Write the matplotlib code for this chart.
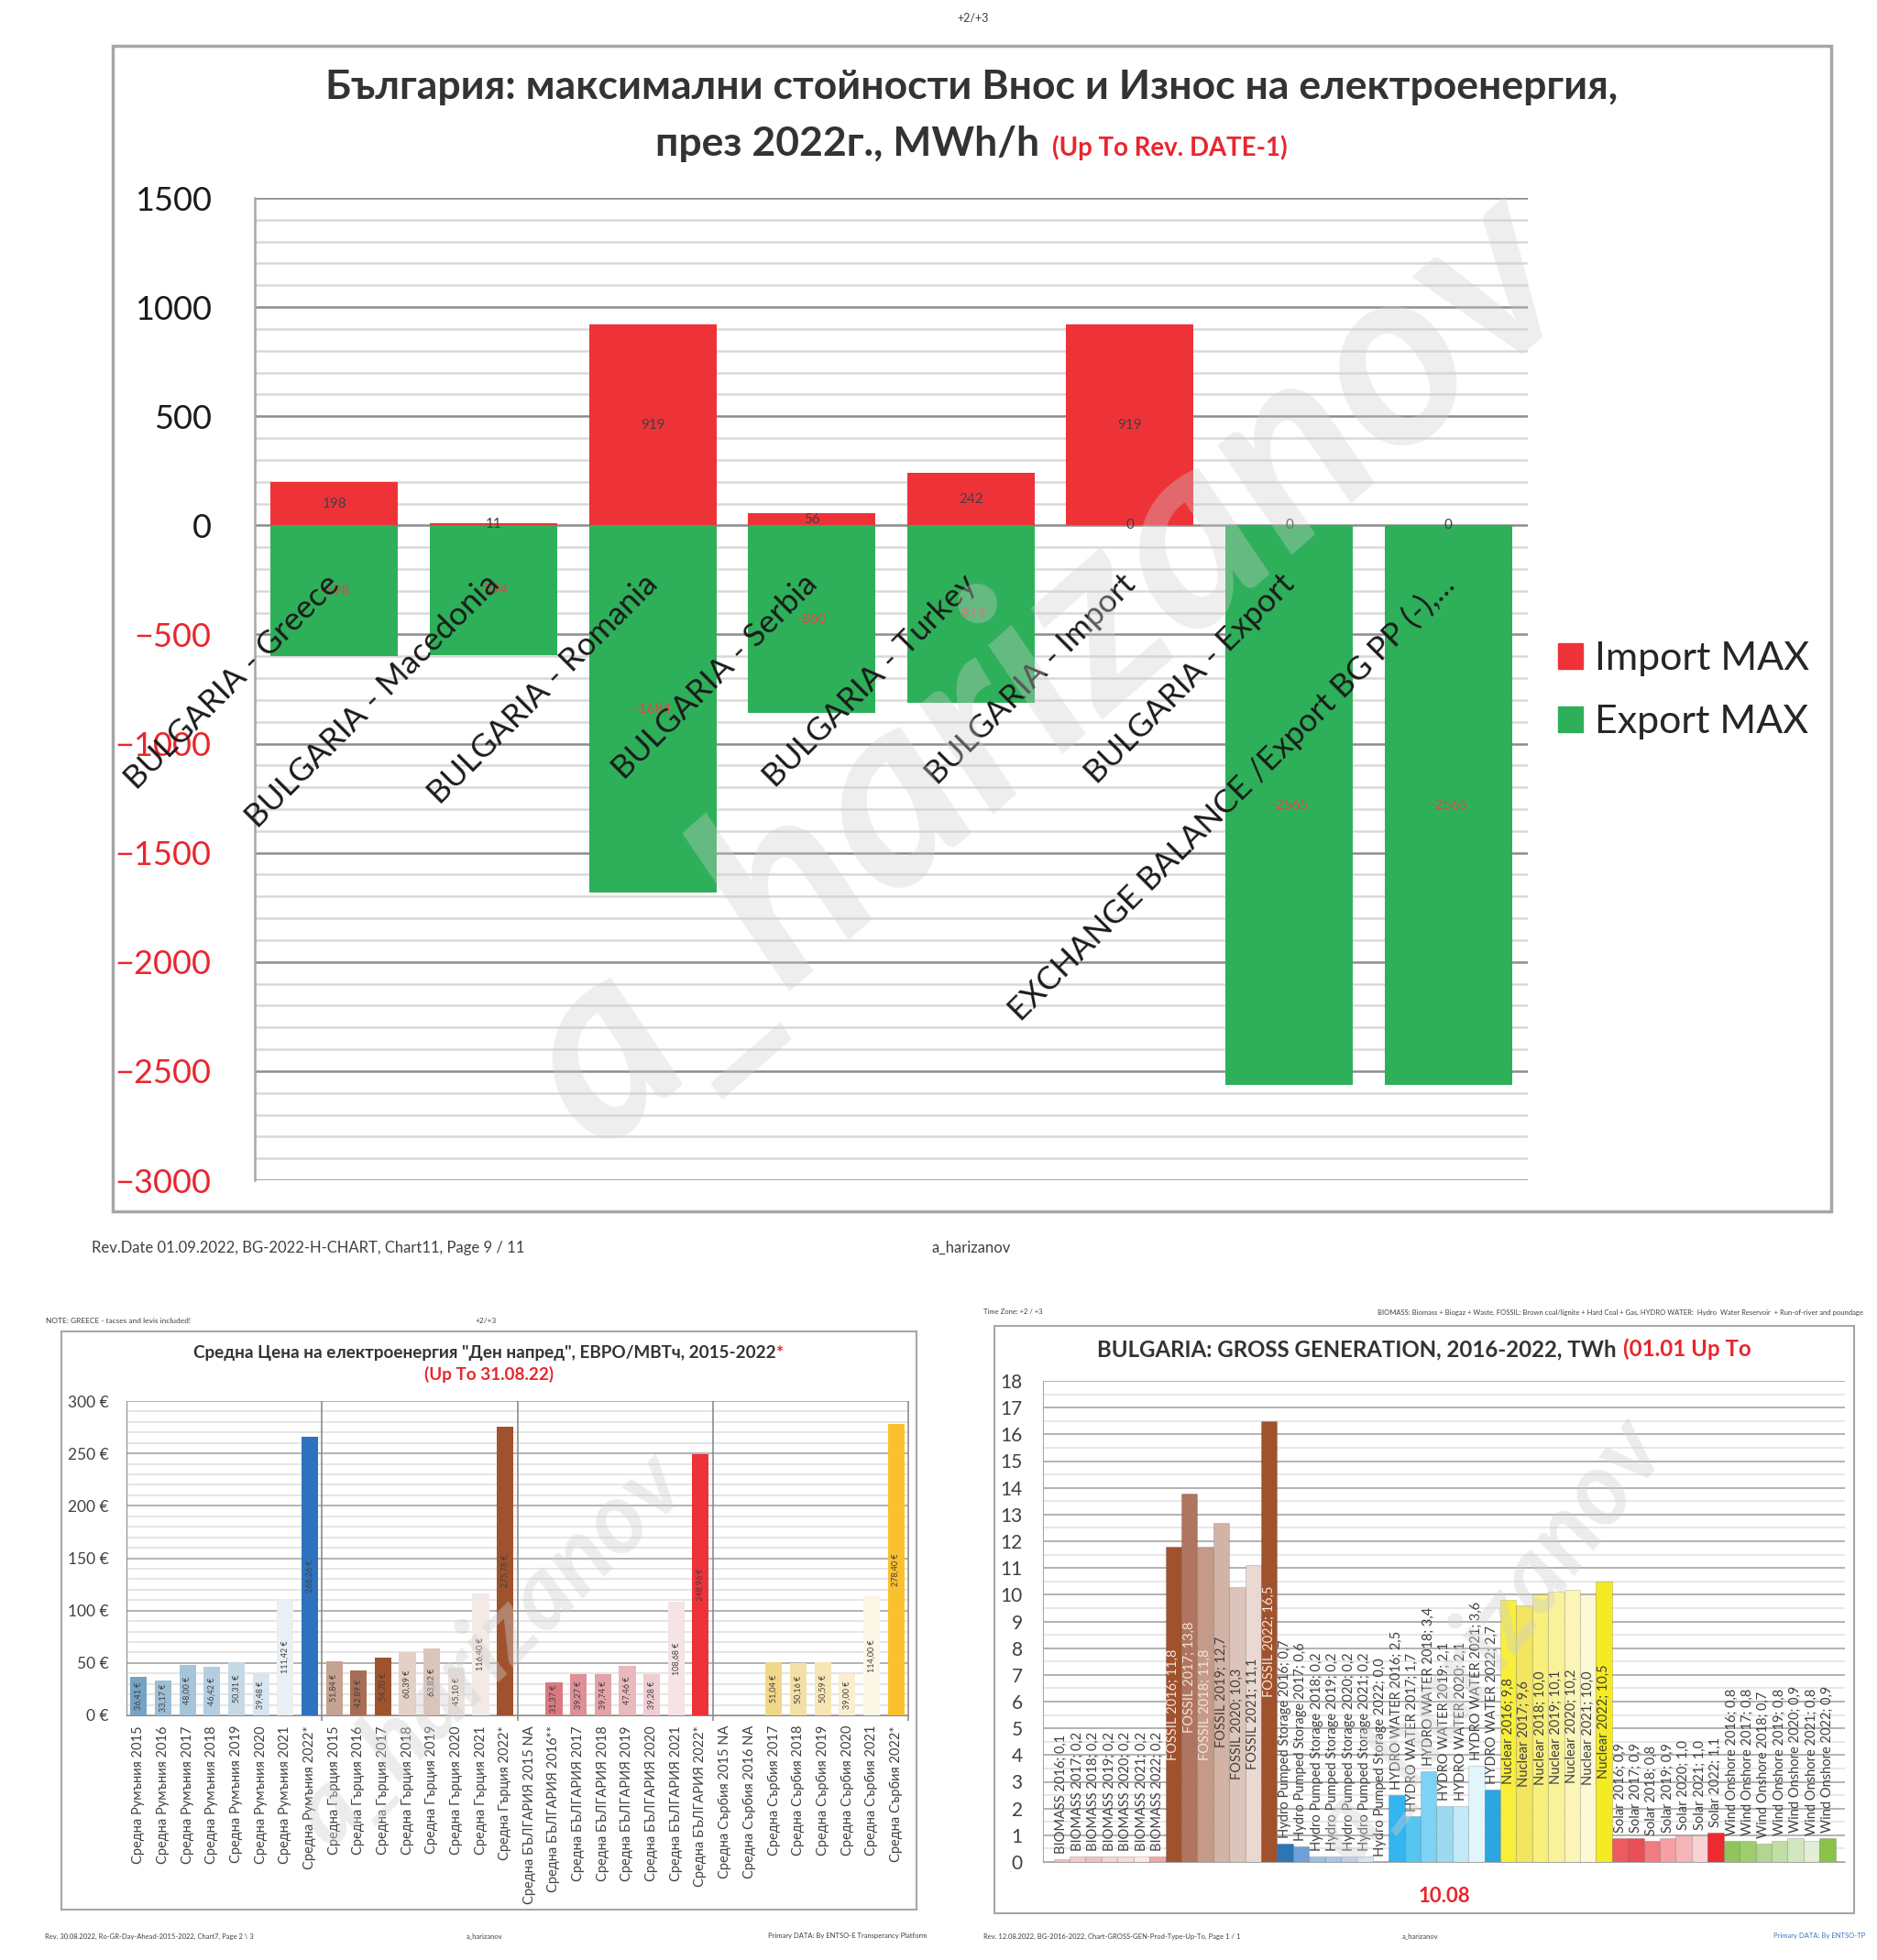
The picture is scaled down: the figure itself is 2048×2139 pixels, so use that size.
import matplotlib.pyplot as plt
from matplotlib.patches import Rectangle, Patch
import numpy as np

plt.rcParams['font.family'] = ['Lato', 'Open Sans', 'DejaVu Sans']

# --- main chart: max import / export, MWh/h
categories = ["BULGARIA - Greece", "BULGARIA - Macedonia", "BULGARIA - Romania",
              "BULGARIA - Serbia", "BULGARIA - Turkey", "BULGARIA - Import",
              "BULGARIA - Export", "EXCHANGE BALANCE /Export BG PP (-),..."]
import_max = [198, 11, 919, 56, 242, 919, 0, 0]
export_max = [-598, -594, -1684, -860, -813, 0, -2565, -2565]

# --- day-ahead average prices, EUR/MWh (None = NA)
price_labels = ["Средна Румъния 2015", "Средна Румъния 2016", "Средна Румъния 2017",
                "Средна Румъния 2018", "Средна Румъния 2019", "Средна Румъния 2020",
                "Средна Румъния 2021", "Средна Румъния 2022*",
                "Средна Гърция 2015", "Средна Гърция 2016", "Средна Гърция 2017",
                "Средна Гърция 2018", "Средна Гърция 2019", "Средна Гърция 2020",
                "Средна Гърция 2021", "Средна Гърция 2022*",
                "Средна БЪЛГАРИЯ 2015 NA", "Средна БЪЛГАРИЯ 2016**", "Средна БЪЛГАРИЯ 2017",
                "Средна БЪЛГАРИЯ 2018", "Средна БЪЛГАРИЯ 2019", "Средна БЪЛГАРИЯ 2020",
                "Средна БЪЛГАРИЯ 2021", "Средна БЪЛГАРИЯ 2022*",
                "Средна Сърбия 2015 NA", "Средна Сърбия 2016 NA", "Средна Сърбия 2017",
                "Средна Сърбия 2018", "Средна Сърбия 2019", "Средна Сърбия 2020",
                "Средна Сърбия 2021", "Средна Сърбия 2022*"]
price_values = [36.41, 33.17, 48.00, 46.42, 50.31, 39.48, 111.42, 266.26,
                51.84, 42.89, 54.70, 60.39, 63.82, 45.10, 116.40, 275.78,
                None, 31.37, 39.27, 39.74, 47.46, 39.28, 108.68, 248.96,
                None, None, 51.04, 50.16, 50.59, 39.00, 114.00, 278.40]
price_colors = ['#76a3c4', '#9dbfd6', '#a6c4da', '#b4cde0', '#c5d8e6', '#dae6ef', '#e8eff5', '#2e72bf',
                '#c6a292', '#a86e55', '#a0522d', '#e3d0c7', '#dac5bb', '#ece0da', '#f3eae6', '#a0522d',
                '#d87a80', '#d87a80', '#de9096', '#e3a3a8', '#eab9bd', '#efcdd0', '#f5e3e5', '#ee3338',
                '#f1d78a', '#f1d78a', '#f1d78a', '#f4e0a6', '#f6e6b6', '#f9efcf', '#fcf6e6', '#fbc02d']

# --- gross generation, TWh
gen_types = ["BIOMASS", "FOSSIL", "Hydro Pumped Storage", "HYDRO WATER", "Nuclear", "Solar", "Wind Onshore"]
gen_years = [2016, 2017, 2018, 2019, 2020, 2021, 2022]
biomass = [0.1, 0.2, 0.2, 0.2, 0.2, 0.2, 0.2]
fossil = [11.8, 13.8, 11.8, 12.7, 10.3, 11.1, 16.5]
hydro_ps = [0.7, 0.6, 0.2, 0.2, 0.2, 0.2, 0.0]
hydro_water = [2.5, 1.7, 3.4, 2.1, 2.1, 3.6, 2.7]
nuclear = [9.8, 9.6, 10.0, 10.1, 10.2, 10.0, 10.5]
solar = [0.9, 0.9, 0.8, 0.9, 1.0, 1.0, 1.1]
wind = [0.8, 0.8, 0.7, 0.8, 0.9, 0.8, 0.9]
gen_colors = ['#f0c0bd', '#f3cbc8', '#efc1bd', '#f5d5d2', '#f7dcda', '#fbe9e8', '#eea8a5',
              '#a0522d', '#b07560', '#c49a88', '#d3b3a6', '#dcc4ba', '#ead9d3', '#a0522d',
              '#2e75b6', '#6fa0d8', '#9dbde4', '#a9c6e8', '#b9d0ec', '#d6e4f3', '#ffffff',
              '#33b5ef', '#55c5f2', '#7dd3f5', '#9cdaf0', '#c2eaf9', '#e0f5fc', '#2aa7e0',
              '#f9ef3a', '#f2e560', '#f8f07a', '#faf29a', '#fbf6b8', '#fdf9d6', '#f5eb22',
              '#ee5a5f', '#e84f56', '#f07b80', '#f5a0a4', '#f6b6b9', '#f7d3d5', '#ee2b31',
              '#8fc55a', '#9ecd6d', '#b2d690', '#c1dea5', '#d2e6bf', '#e2eed6', '#8bc34a']

DARK = '#404040'
RED = '#e8262d'
W, H = 2048, 2139
fig = plt.figure(figsize=(W / 100, H / 100), dpi=100)
renderer = fig.canvas.get_renderer()


def fx(px):
    return px / W


def fy(py):
    return 1 - py / H


def axes_box(x0, y0, x1, y1):
    return fig.add_axes([fx(x0), fy(y1), (x1 - x0) / W, (y1 - y0) / H])


def frame(x0, y0, x1, y1, lw):
    fig.add_artist(Rectangle((fx(x0), fy(y1)), (x1 - x0) / W, (y1 - y0) / H,
                             transform=fig.transFigure, fill=False, edgecolor='#a6a6a6', lw=lw))


def title_line(xc, base, parts, target=None, gap=0.3):
    texts = [fig.text(0, fy(base), s, color=c, fontsize=fs, fontweight='bold', va='baseline', ha='left')
             for s, c, fs in parts]
    if target:
        ws = [t.get_window_extent(renderer).width for t in texts]
        g = gap * texts[0].get_fontsize() * 100 / 72
        k = target / (sum(ws) + g * (len(ws) - 1))
        for t in texts:
            t.set_fontsize(t.get_fontsize() * k)
    ws = [t.get_window_extent(renderer).width for t in texts]
    g = gap * texts[0].get_fontsize() * 100 / 72
    x = xc - (sum(ws) + g * (len(ws) - 1)) / 2
    for t, w in zip(texts, ws):
        t.set_x(fx(x))
        x += w + g
    return texts[0].get_fontsize()


def watermark(xc, yc, size, angle, alpha=0.4):
    fig.text(fx(xc), fy(yc), "a_harizanov", fontsize=size, rotation=angle, color='#cfcfcf',
             alpha=alpha, ha='center', va='center', rotation_mode='anchor',
             fontweight='bold', fontstyle='italic', zorder=10)


# ================= main chart =================
fig.text(fx(1062), fy(19), "+2/+3", fontsize=9, color=DARK, ha='center', va='center')
frame(123, 50, 1998, 1322, 2.5)
fs = title_line(1060, 108, [("България: максимални стойности Внос и Износ на електроенергия,", '#333333', 30)],
                target=1405)
title_line(1060, 170, [("през 2022г., MWh/h", '#333333', fs), ("(Up To Rev. DATE-1)", RED, fs * 0.62)])

ax = axes_box(278, 216, 1667, 1288)
x = np.arange(len(categories))
ax.bar(x, import_max, 0.8, color='#ee3338', zorder=3)
ax.bar(x, export_max, 0.8, color='#2eb05a', zorder=3)
ax.set_xlim(-0.5, len(categories) - 0.5)
ax.set_ylim(-3000, 1500)
ax.set_yticks(range(-3000, 1501, 500))
ax.set_yticks(range(-3000, 1501, 100), minor=True)
ax.grid(axis='y', which='major', color='#8c8c8c', lw=1.8)
ax.grid(axis='y', which='minor', color='#d9d9d9', lw=1.8)
ax.set_axisbelow(True)
ax.set_xticks([])
ax.tick_params(axis='y', which='both', length=0, pad=34, labelsize=26)
for lbl, v in zip(ax.get_yticklabels(), ax.get_yticks()):
    lbl.set_color(RED if v < 0 else '#1a1a1a')
for s in ['top', 'right', 'bottom']:
    ax.spines[s].set_visible(False)
ax.spines['left'].set_color('#a6a6a6')
ax.spines['left'].set_linewidth(1.8)

for i in x:
    ax.text(i, import_max[i] / 2, f"{import_max[i]}", ha='center', va='center', fontsize=11, color=DARK, zorder=5)
    if export_max[i] != 0:
        ax.text(i, export_max[i] / 2, f"{export_max[i]}", ha='center', va='center', fontsize=11,
                color='#e0474c', zorder=5)
    elif import_max[i] != 0:
        ax.text(i, 0, "0", ha='center', va='center', fontsize=11, color=DARK, zorder=5)
    ax.text(i - 0.06, -200, categories[i], rotation=45, rotation_mode='anchor', ha='right', va='top',
            fontsize=25.5, color='#1a1a1a', zorder=6)

fig.legend(handles=[Patch(color='#ee3338'), Patch(color='#2eb05a')], labels=["Import MAX", "Export MAX"],
           loc='upper left', bbox_to_anchor=(fx(1700), fy(700)), frameon=False, fontsize=31,
           handlelength=0.62, handleheight=0.62, handletextpad=0.3, labelspacing=0.72,
           borderpad=0, borderaxespad=0, labelcolor='#262626')
fig.text(fx(100), fy(1362), "Rev.Date 01.09.2022, BG-2022-H-CHART, Chart11, Page 9 / 11", fontsize=12,
         color=DARK, va='center')
fig.text(fx(1060), fy(1362), "a_harizanov", fontsize=12, color=DARK, va='center', ha='center')
watermark(1140, 730, 200, 41, alpha=0.35)

# ================= day-ahead prices =================
fig.text(fx(50), fy(1441), "NOTE: GREECE - tacses and levis included!", fontsize=6, color=DARK, va='center')
fig.text(fx(530), fy(1441), "+2/+3", fontsize=6, color=DARK, va='center', ha='center')
frame(67, 1453, 1000, 2084, 1.5)
fs = title_line(533, 1482, [("Средна Цена на електроенергия \"Ден напред\", ЕВРО/МВТч, 2015-2022", '#333333', 13),
                            ("*", RED, 13)], target=640, gap=0)
title_line(534, 1506, [("(Up To 31.08.22)", RED, fs)])

ax2 = axes_box(138, 1529, 991, 1872)
for i, v in enumerate(price_values):
    if v is None:
        continue
    ax2.bar(i, v, 0.68, color=price_colors[i], zorder=3)
    ax2.text(i, v / 2, f"{v:.2f} €".replace('.', ','), rotation=90, ha='center', va='center',
             fontsize=6.5, color=DARK, zorder=4)
ax2.set_xlim(-0.5, len(price_values) - 0.5)
ax2.set_ylim(0, 300)
ax2.set_yticks(range(0, 301, 50))
ax2.set_yticklabels([f"{v} €" for v in range(0, 301, 50)])
ax2.set_yticks(range(0, 301, 10), minor=True)
ax2.grid(axis='y', which='major', color='#a6a6a6', lw=1.2)
ax2.grid(axis='y', which='minor', color='#e0e0e0', lw=1.2)
ax2.set_axisbelow(True)
ax2.vlines([7.5, 15.5, 23.5, 31.5], -5, 300, color='#8c8c8c', lw=1.2, clip_on=False, zorder=2)
ax2.set_xticks(range(len(price_labels)))
ax2.set_xticklabels(price_labels, rotation=90, fontsize=10.5, color=DARK)
ax2.tick_params(axis='x', length=0, pad=8)
ax2.tick_params(axis='y', which='both', length=0, pad=14, labelsize=12.5, labelcolor=DARK)
for s in ['top', 'right']:
    ax2.spines[s].set_visible(False)
for s in ['left', 'bottom']:
    ax2.spines[s].set_color('#8c8c8c')
fig.text(fx(49), fy(2113), "Rev. 30.08.2022, Ro-GR-Day-Ahead-2015-2022, Chart7, Page 2 \\ 3", fontsize=5.5,
         color=DARK, va='center')
fig.text(fx(529), fy(2113), "a_harizanov", fontsize=5.5, color=DARK, va='center', ha='center')
fig.text(fx(1012), fy(2113), "Primary DATA: By ENTSO-E Transperancy Platform", fontsize=5.5, color=DARK,
         va='center', ha='right')
watermark(535, 1800, 78, 45)

# ================= gross generation =================
fig.text(fx(1073), fy(1432), "Time Zone: +2 / +3", fontsize=5.5, color=DARK, va='center')
fig.text(fx(2033), fy(1432), "BIOMASS: Biomass + Biogaz + Waste, FOSSIL: Brown coal/lignite + Hard Coal + Gas, "
         "HYDRO WATER:  Hydro  Water Reservoir  + Run-of-river and poundage", fontsize=5.5, color=DARK,
         va='center', ha='right')
frame(1085, 1447, 2023, 2088, 1.5)
title_line(1554, 1480, [("BULGARIA: GROSS GENERATION, 2016-2022, TWh", '#333333', 16), ("(01.01 Up To", RED, 16)],
           target=714)

ax3 = axes_box(1138, 1507, 2013, 2032)
gen_series = [biomass, fossil, hydro_ps, hydro_water, nuclear, solar, wind]
k = 0
for name, vals in zip(gen_types, gen_series):
    for year, v in zip(gen_years, vals):
        ax3.bar(k, v, 1.0, color=gen_colors[k], edgecolor='#00000022', lw=0.8, zorder=3)
        label = f"{name} {year}; {v:.1f}".replace('.', ',')
        if name in ("FOSSIL", "Nuclear"):
            light = name == "FOSSIL" and year in (2016, 2017, 2018, 2022)
            ax3.text(k, v / 2, label, rotation=90, ha='center', va='center', fontsize=10.5,
                     color='#f3e3dc' if light else DARK, zorder=4)
        else:
            ax3.text(k, v + 0.2, label, rotation=90, ha='center', va='bottom', fontsize=10.5,
                     color=DARK, zorder=4)
        k += 1
ax3.set_xlim(-1.17, k - 1 + 1.1)
ax3.set_ylim(0, 18)
ax3.set_yticks(range(0, 19))
ax3.set_yticks(np.arange(0, 18.5, 0.5), minor=True)
ax3.grid(axis='y', which='major', color='#a6a6a6', lw=1.2)
ax3.grid(axis='y', which='minor', color='#e3e3e3', lw=1.2)
ax3.set_axisbelow(True)
ax3.set_xticks([])
ax3.tick_params(axis='y', which='both', length=0, pad=16, labelsize=15, labelcolor=DARK)
for s in ['top', 'right']:
    ax3.spines[s].set_visible(False)
for s in ['left', 'bottom']:
    ax3.spines[s].set_color('#a6a6a6')
fig.text(fx(1576), fy(2076), "10.08", fontsize=16, fontweight='bold', color=RED, ha='center', va='baseline')
fig.text(fx(1073), fy(2113), "Rev. 12.08.2022, BG-2016-2022, Chart-GROSS-GEN-Prod-Type-Up-To, Page 1 / 1",
         fontsize=5.5, color=DARK, va='center')
fig.text(fx(1530), fy(2113), "a_harizanov", fontsize=5.5, color=DARK, va='center')
fig.text(fx(2035), fy(2113), "Primary DATA: By ENTSO-TP", fontsize=5.5, color='#4472c4', va='center', ha='right')
watermark(1623, 1790, 80, 53)

fig.savefig("out.png", dpi=100)
